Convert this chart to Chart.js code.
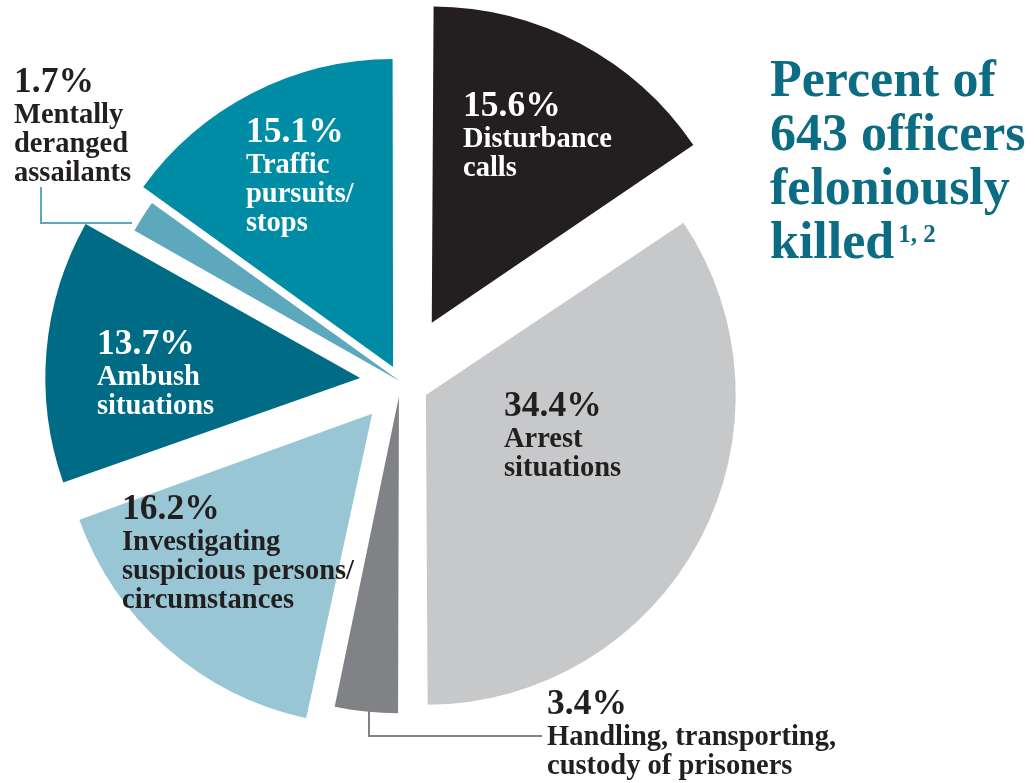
<!DOCTYPE html>
<html>
<head>
<meta charset="utf-8">
<script src="https://cdn.jsdelivr.net/npm/chart.js@4.4.0/dist/chart.umd.min.js"></script>
<style>
  body { margin: 0; background: #fff; }
  #wrap { position: relative; width: 1034px; height: 783px; overflow: hidden; }
  #wrap canvas { position: absolute; left: 0; top: 0; }
  .t { position: absolute; white-space: nowrap; font-family: 'Liberation Serif', 'Times New Roman', serif; font-weight: bold; line-height: 1; }
</style>
</head>
<body>
<div id="wrap"><canvas id="pie" width="1034" height="783"></canvas></div>
<script>
// Slices, clockwise from 12 o'clock
const categories = [
  'Disturbance calls',
  'Arrest situations',
  'Handling, transporting, custody of prisoners',
  'Investigating suspicious persons/circumstances',
  'Ambush situations',
  'Mentally deranged assailants',
  'Traffic pursuits/stops',
];
const shares = [15.6, 34.4, 3.4, 16.2, 13.7, 1.7, 15.1];
const labelLines = [
  ['Disturbance', 'calls'],
  ['Arrest', 'situations'],
  ['Handling, transporting,', 'custody of prisoners'],
  ['Investigating', 'suspicious persons/', 'circumstances'],
  ['Ambush', 'situations'],
  ['Mentally', 'deranged', 'assailants'],
  ['Traffic', 'pursuits/', 'stops'],
];
const titleLines = ['Percent of', '643 officers', 'feloniously', 'killed'];

// Style set
const sliceColors = ['#231f20', '#c7c8ca', '#808285', '#98c6d4', '#006b84', '#5da8bd', '#008ca5'];
const sliceOffsets = [266, 115, 60, 172, 162, 2, 65];
const textColors = ['#fff', '#231f20', '#231f20', '#231f20', '#fff', '#231f20', '#fff'];
// label spot: left x, baseline of the percent line
const labelSpots = [[463, 117], [504, 417], [547, 715], [122, 520], [97, 355], [14, 93], [246, 143]];

const wrap = document.getElementById('wrap');

function addText(str, x, baseline, size, color) {
  const d = document.createElement('div');
  d.className = 't';
  d.style.left = x + 'px';
  d.style.top = (baseline - size * 0.8375) + 'px';
  d.style.fontSize = size + 'px';
  d.style.color = color;
  d.textContent = str;
  wrap.appendChild(d);
  return d;
}

// Leader lines for the two small slices
const leaderLines = {
  id: 'leaderLines',
  afterDatasetsDraw(chart) {
    const ctx = chart.ctx;
    ctx.save();
    ctx.lineWidth = 2;
    ctx.strokeStyle = sliceColors[5];
    ctx.beginPath();
    ctx.moveTo(41, 187);
    ctx.lineTo(41, 223);
    ctx.lineTo(132, 223);
    ctx.stroke();
    ctx.strokeStyle = sliceColors[2];
    ctx.beginPath();
    ctx.moveTo(369, 706);
    ctx.lineTo(369, 736);
    ctx.lineTo(542, 736);
    ctx.stroke();
    ctx.restore();
  },
};

new Chart(document.getElementById('pie'), {
  type: 'pie',
  data: {
    labels: categories,
    datasets: [
      {
        data: shares,
        backgroundColor: sliceColors,
        offset: sliceOffsets,
        borderWidth: 0,
      },
    ],
  },
  options: {
    responsive: false,
    animation: false,
    devicePixelRatio: 1,
    radius: 305,
    layout: { padding: { left: 0, top: 0, right: 233, bottom: 20 } },
    plugins: {
      legend: { display: false },
      tooltip: { enabled: false },
    },
  },
  plugins: [leaderLines],
});

// slice labels
shares.forEach((v, i) => {
  const [x, y] = labelSpots[i];
  addText(v.toFixed(1) + '%', x, y, 35.5, textColors[i]);
  labelLines[i].forEach((line, k) => {
    addText(line, x, y + 31 + k * 28.7, 28.5, textColors[i]);
  });
});

// title
titleLines.forEach((line, k) => {
  const d = addText(line, 770, 97 + k * 54, 52, '#0c6c83');
  if (k === titleLines.length - 1) {
    const sup = document.createElement('span');
    sup.style.fontSize = '25px';
    sup.style.verticalAlign = '16px';
    sup.style.marginLeft = '4px';
    sup.textContent = '1, 2';
    d.appendChild(sup);
  }
});
</script>
</body>
</html>
